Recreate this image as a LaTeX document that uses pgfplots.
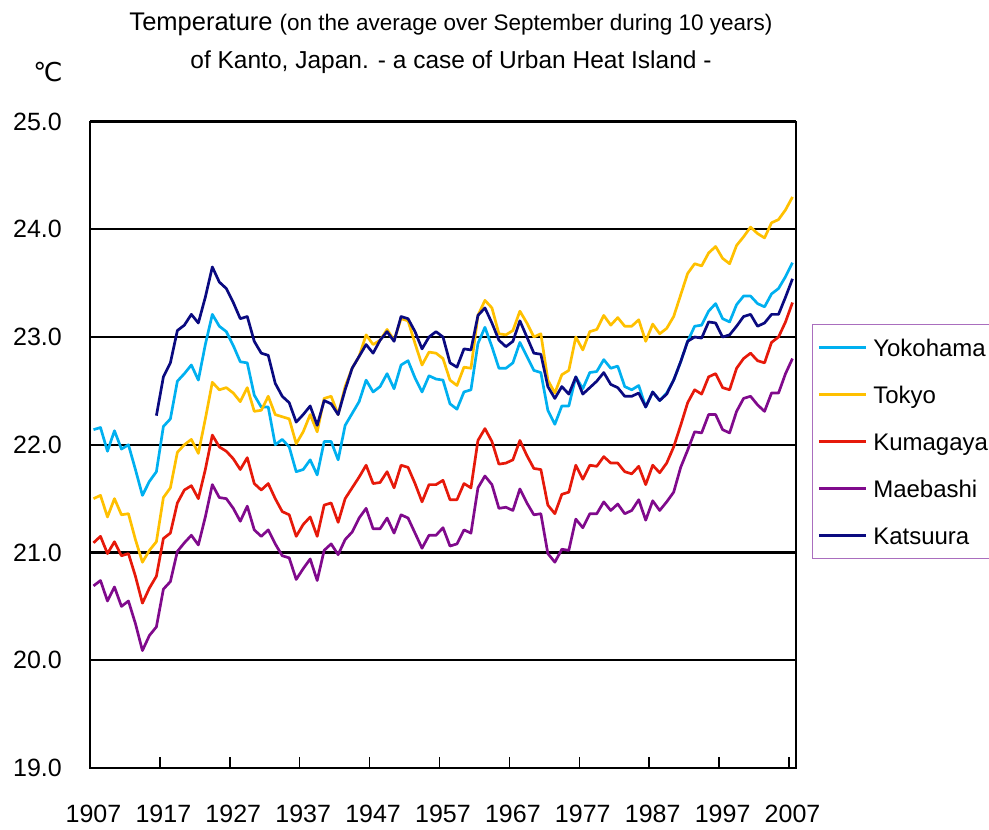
\documentclass[border=0pt]{standalone}
\usepackage{fontspec}
\setmainfont{Liberation Sans}
\newfontfamily\dejavu{DejaVu Sans}
\usepackage{pgfplots}
\usepackage{pgfplotstable}
\pgfplotsset{compat=1.18}
\definecolor{cYoko}{RGB}{0,176,240}
\definecolor{cTokyo}{RGB}{255,192,0}
\definecolor{cKuma}{RGB}{230,25,10}
\definecolor{cMae}{RGB}{128,10,140}
\definecolor{cKatsu}{RGB}{10,10,128}
\definecolor{cLeg}{RGB}{170,110,190}

\pgfplotstableread{
year Y T K M Ka
1907 22.14 21.50 21.09 20.69 nan
1908 22.16 21.53 21.15 20.74 nan
1909 21.94 21.33 20.99 20.55 nan
1910 22.13 21.50 21.10 20.68 nan
1911 21.96 21.35 20.97 20.50 nan
1912 22.00 21.36 20.99 20.55 nan
1913 21.77 21.12 20.78 20.34 nan
1914 21.53 20.91 20.53 20.09 nan
1915 21.66 21.02 20.67 20.23 nan
1916 21.75 21.10 20.78 20.31 22.27
1917 22.17 21.51 21.13 20.66 22.63
1918 22.24 21.60 21.18 20.73 22.76
1919 22.59 21.93 21.46 21.01 23.06
1920 22.66 22.00 21.58 21.09 23.11
1921 22.74 22.05 21.62 21.16 23.21
1922 22.60 21.92 21.50 21.07 23.13
1923 22.93 22.24 21.77 21.33 23.37
1924 23.21 22.58 22.09 21.63 23.65
1925 23.10 22.51 21.98 21.51 23.51
1926 23.05 22.53 21.94 21.50 23.45
1927 22.92 22.48 21.87 21.41 23.32
1928 22.77 22.40 21.77 21.29 23.17
1929 22.76 22.53 21.88 21.43 23.19
1930 22.46 22.31 21.64 21.21 22.96
1931 22.35 22.32 21.58 21.15 22.85
1932 22.35 22.45 21.64 21.21 22.83
1933 22.00 22.28 21.50 21.08 22.57
1934 22.05 22.26 21.38 20.97 22.45
1935 21.98 22.24 21.35 20.95 22.39
1936 21.75 22.01 21.15 20.75 22.21
1937 21.77 22.12 21.26 20.85 22.28
1938 21.86 22.28 21.33 20.94 22.36
1939 21.72 22.12 21.15 20.74 22.18
1940 22.03 22.43 21.44 21.02 22.41
1941 22.03 22.45 21.46 21.08 22.38
1942 21.86 22.28 21.28 20.98 22.28
1943 22.18 22.54 21.50 21.12 22.51
1944 22.29 22.71 21.60 21.19 22.71
1945 22.40 22.82 21.70 21.32 22.82
1946 22.60 23.02 21.81 21.41 22.93
1947 22.49 22.93 21.64 21.22 22.85
1948 22.54 22.97 21.65 21.22 22.97
1949 22.66 23.07 21.75 21.32 23.05
1950 22.52 22.97 21.60 21.18 22.96
1951 22.74 23.17 21.81 21.35 23.19
1952 22.78 23.15 21.79 21.32 23.17
1953 22.62 22.94 21.64 21.18 23.05
1954 22.49 22.74 21.47 21.04 22.89
1955 22.64 22.86 21.63 21.16 23.00
1956 22.61 22.85 21.63 21.16 23.05
1957 22.60 22.80 21.67 21.23 23.00
1958 22.38 22.60 21.49 21.06 22.76
1959 22.33 22.55 21.49 21.08 22.72
1960 22.49 22.72 21.64 21.21 22.89
1961 22.51 22.71 21.60 21.18 22.88
1962 22.94 23.20 22.04 21.60 23.20
1963 23.09 23.34 22.15 21.71 23.27
1964 22.91 23.27 22.03 21.63 23.13
1965 22.71 23.03 21.82 21.41 22.97
1966 22.71 23.02 21.83 21.42 22.91
1967 22.76 23.06 21.86 21.39 22.96
1968 22.95 23.24 22.04 21.59 23.15
1969 22.82 23.13 21.90 21.46 23.00
1970 22.69 23.00 21.78 21.35 22.85
1971 22.67 23.03 21.77 21.36 22.84
1972 22.32 22.60 21.44 20.99 22.54
1973 22.19 22.48 21.36 20.91 22.43
1974 22.36 22.65 21.54 21.03 22.54
1975 22.36 22.69 21.56 21.02 22.47
1976 22.63 23.00 21.81 21.31 22.63
1977 22.52 22.88 21.68 21.23 22.47
1978 22.67 23.05 21.81 21.36 22.53
1979 22.68 23.07 21.80 21.36 22.59
1980 22.79 23.20 21.89 21.47 22.67
1981 22.71 23.11 21.83 21.39 22.56
1982 22.73 23.18 21.83 21.45 22.53
1983 22.54 23.10 21.75 21.36 22.45
1984 22.51 23.10 21.73 21.39 22.45
1985 22.55 23.16 21.80 21.49 22.48
1986 22.35 22.96 21.63 21.30 22.35
1987 22.49 23.12 21.81 21.48 22.49
1988 22.41 23.03 21.74 21.39 22.41
1989 22.48 23.08 21.83 21.47 22.47
1990 22.60 23.19 21.98 21.56 22.60
1991 22.77 23.39 22.18 21.79 22.77
1992 22.96 23.59 22.39 21.95 22.96
1993 23.10 23.68 22.51 22.12 23.00
1994 23.11 23.66 22.47 22.11 22.99
1995 23.24 23.78 22.63 22.28 23.14
1996 23.31 23.84 22.66 22.28 23.13
1997 23.17 23.73 22.53 22.14 23.00
1998 23.14 23.68 22.51 22.11 23.02
1999 23.30 23.85 22.71 22.31 23.10
2000 23.38 23.93 22.80 22.43 23.19
2001 23.38 24.02 22.85 22.45 23.21
2002 23.31 23.96 22.78 22.37 23.10
2003 23.28 23.92 22.76 22.31 23.13
2004 23.40 24.06 22.95 22.48 23.21
2005 23.45 24.09 23.00 22.48 23.21
2006 23.56 24.18 23.14 22.66 23.37
2007 23.69 24.30 23.32 22.80 23.54
}\data

\begin{document}
\begin{tikzpicture}[x=1pt,y=1pt]
\useasboundingbox (0,0) rectangle (989,-830);
\begin{axis}[
  at={(90pt,-768pt)}, anchor=south west,
  scale only axis, width=706pt, height=646.5pt,
  xmin=1906.5, xmax=2007.5, ymin=19, ymax=25,
  /pgf/number format/assume math mode=true,
  /pgf/number format/1000 sep={},
  xtick={1907,1917,...,2007},
  minor xtick={1906.5,1916.5,...,2006.5},
  ytick={19,20,...,25},
  yticklabel={\pgfmathprintnumber[fixed,fixed zerofill,precision=1]{\tick}},
  major tick length=0pt, minor tick length=11pt,
  tick align=inside, tick pos=left,
  minor tick style={black, line width=1.5pt},
  ymajorgrids, grid style={black, line width=2.3pt},
  axis line style={black, line width=1.8pt},
  tick label style={font=\fontsize{25}{29}\selectfont},
  yticklabel style={anchor=east, inner sep=0pt, xshift=-28pt},
  xticklabel style={anchor=north, inner sep=0pt, yshift=-37pt},
  legend style={at={(axis description cs:1.0227,0.6868)}, anchor=north west,
    draw=cLeg, line width=1.3pt, font=\fontsize{24}{28}\selectfont,
    inner xsep=5pt, inner ysep=8pt, row sep=17pt, column sep=4pt,
    nodes={text height=21.6pt, text depth=4.4pt, inner sep=2pt}},
  legend cell align=left,
  legend image code/.code={\draw[#1, line width=2.6pt] (0pt,0pt) -- (47pt,0pt);},
  clip=false,
]
\addplot[cYoko, line width=2.7pt, line join=round] table[x=year, y=Y] {\data};
\addlegendentry{Yokohama}
\addplot[cTokyo, line width=2.7pt, line join=round] table[x=year, y=T] {\data};
\addlegendentry{Tokyo}
\addplot[cKuma, line width=2.7pt, line join=round] table[x=year, y=K] {\data};
\addlegendentry{Kumagaya}
\addplot[cMae, line width=2.7pt, line join=round] table[x=year, y=M] {\data};
\addlegendentry{Maebashi}
\addplot[cKatsu, line width=2.7pt, line join=round] table[x=year, y=Ka] {\data};
\addlegendentry{Katsuura}
\end{axis}
\node[anchor=base] at (451,-30) {\fontsize{25.5}{29}\selectfont Temperature \fontsize{22.5}{27}\selectfont(on the average over September during 10 years)};
\node[anchor=base] at (451,-68) {\fontsize{24.5}{29}\selectfont of Kanto, Japan. - a case of Urban Heat Island -};
\node at (48,-72) {\dejavu\fontsize{26}{30}\selectfont ℃};
\end{tikzpicture}
\end{document}
